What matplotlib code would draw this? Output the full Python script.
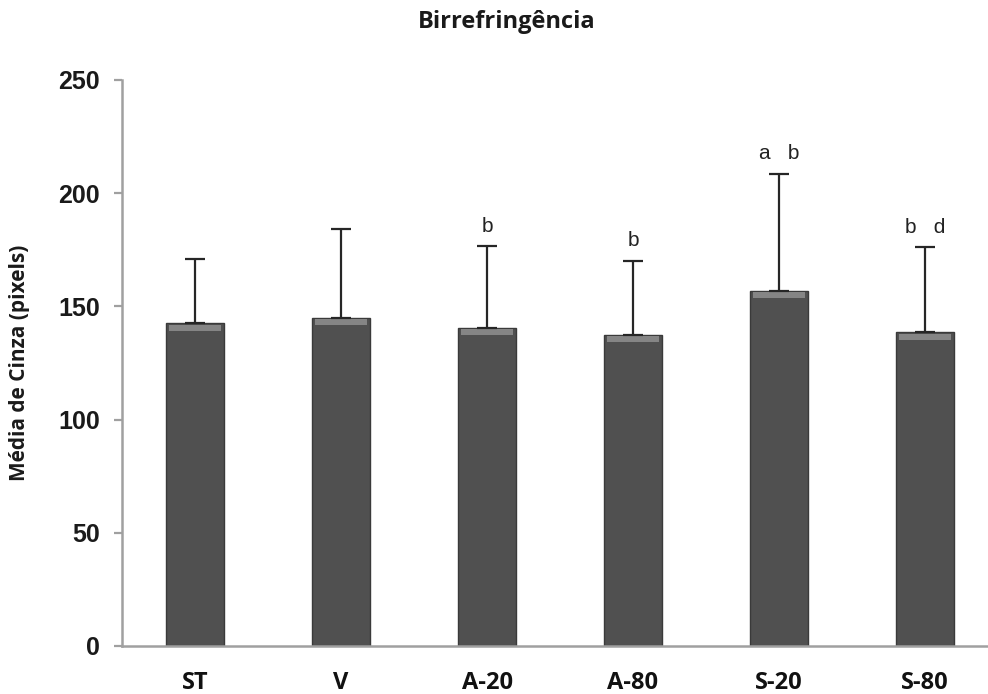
import numpy as np
import matplotlib.pyplot as plt
from matplotlib import font_manager as fm

grupos = ['ST', 'V', 'A-20', 'A-80', 'S-20', 'S-80']
medias = [142.5, 145.0, 140.5, 137.5, 157.0, 138.5]
desvio = [28.5, 39.0, 36.0, 32.5, 51.5, 37.5]
letras = ['', '', 'b', 'b', 'a   b', 'b   d']

# Liberation Sans (nao a Narrow) para os numeros do eixo y
arq = [f for f in fm.findSystemFonts() if f.endswith('LiberationSans-Bold.ttf')]
fp_num = fm.FontProperties(fname=arq[0], size=18) if arq else \
    fm.FontProperties(family='DejaVu Sans', weight='bold', size=17)
arq_r = [f for f in fm.findSystemFonts() if f.endswith('LiberationSans-Regular.ttf')]
fp_let = fm.FontProperties(fname=arq_r[0], size=15) if arq_r else \
    fm.FontProperties(family='DejaVu Sans', size=14)

fig = plt.figure(figsize=(9.88, 6.94), dpi=100)
ax = fig.add_axes([0.1235, 0.0692, 0.8866, 0.8156])

x = np.arange(len(grupos))
larg = 0.4

# barra principal + faixa clara no topo (efeito de chanfro)
ax.bar(x, medias, larg, color='#505050', edgecolor='#3a3a3a', linewidth=1, zorder=2)
ax.bar(x, [2.5] * len(x), larg * 0.9, bottom=np.array(medias) - 3.2,
       color='#858585', linewidth=0, zorder=3)
ax.errorbar(x, medias, yerr=[np.zeros(len(x)), desvio], fmt='none',
            ecolor='#262626', elinewidth=1.6, capsize=7, capthick=1.6, zorder=4)

for xi, m, d, l in zip(x, medias, desvio, letras):
    if l:
        ax.text(xi, m + d + 6.5, l, ha='center', va='baseline',
                fontproperties=fp_let, color='#222222')

ax.set_xlim(-0.5, 5.5)
ax.set_ylim(0, 250)
ax.set_yticks(range(0, 251, 50))
ax.set_xticks(x)
ax.set_xticklabels(grupos, fontsize=17, fontweight='bold', family='Open Sans', color='#111111')
for t in ax.get_yticklabels():
    t.set_fontproperties(fp_num)
    t.set_color('#1a1a1a')

ax.tick_params(axis='x', length=0, pad=18)
ax.tick_params(axis='y', length=6, width=1.6, color='#a0a0a0', pad=10)
for s in ['top', 'right']:
    ax.spines[s].set_visible(False)
ax.spines['left'].set_color('#a0a0a0')
ax.spines['left'].set_linewidth(1.8)
ax.spines['bottom'].set_color('#a0a0a0')
ax.spines['bottom'].set_linewidth(1.8)

ax.set_ylabel('Média de Cinza (pixels)', fontsize=15, fontweight='bold',
              family='Open Sans', labelpad=20, color='#1a1a1a')
fig.text(0.513, 0.968, 'Birrefringência', ha='center', va='center',
         fontsize=17, fontweight='bold', family='Open Sans', color='#1a1a1a')

fig.savefig('out.png', dpi=100)
